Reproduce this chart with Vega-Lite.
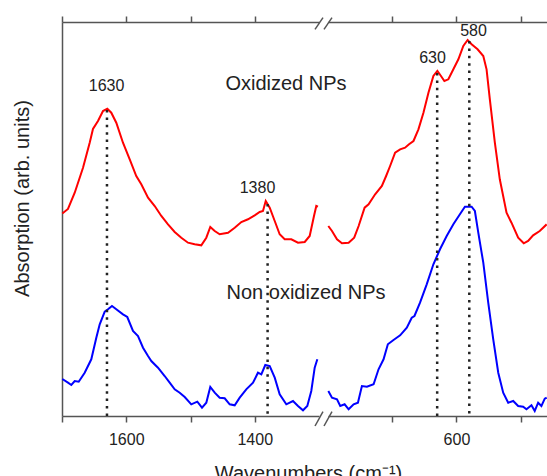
{
  "$schema": "https://vega.github.io/schema/vega-lite/v6.json",
  "padding": {"left": 12, "top": 15, "right": 0, "bottom": 0},
  "background": "white",
  "config": {
    "view": {"stroke": null},
    "font": "Liberation Sans",
    "axis": {
      "grid": false,
      "domainColor": "#555555",
      "domainWidth": 1.5,
      "tickColor": "#555555",
      "tickWidth": 1.5,
      "tickSize": 6,
      "labelFont": "Liberation Sans",
      "labelFontSize": 16,
      "labelColor": "#222222",
      "labelPadding": 9,
      "titleFont": "Liberation Sans",
      "titleFontSize": 20,
      "titleFontWeight": "normal",
      "titleColor": "#222222"
    }
  },
  "datasets": {
    "spectra": [
      {"wavenumber": 1699.5, "absorption": 202.5, "series": "Oxidized", "segment": "left"},
      {"wavenumber": 1690.7, "absorption": 207, "series": "Oxidized", "segment": "left"},
      {"wavenumber": 1680.2, "absorption": 223.3, "series": "Oxidized", "segment": "left"},
      {"wavenumber": 1667.3, "absorption": 248.3, "series": "Oxidized", "segment": "left"},
      {"wavenumber": 1656.9, "absorption": 273.3, "series": "Oxidized", "segment": "left"},
      {"wavenumber": 1651.8, "absorption": 287, "series": "Oxidized", "segment": "left"},
      {"wavenumber": 1644.0, "absorption": 295, "series": "Oxidized", "segment": "left"},
      {"wavenumber": 1636.2, "absorption": 305, "series": "Oxidized", "segment": "left"},
      {"wavenumber": 1629.5, "absorption": 307.3, "series": "Oxidized", "segment": "left"},
      {"wavenumber": 1623.3, "absorption": 303.3, "series": "Oxidized", "segment": "left"},
      {"wavenumber": 1615.5, "absorption": 293.3, "series": "Oxidized", "segment": "left"},
      {"wavenumber": 1605.1, "absorption": 273.3, "series": "Oxidized", "segment": "left"},
      {"wavenumber": 1594.6, "absorption": 256.7, "series": "Oxidized", "segment": "left"},
      {"wavenumber": 1584.4, "absorption": 240, "series": "Oxidized", "segment": "left"},
      {"wavenumber": 1576.6, "absorption": 231.7, "series": "Oxidized", "segment": "left"},
      {"wavenumber": 1566.1, "absorption": 218.3, "series": "Oxidized", "segment": "left"},
      {"wavenumber": 1555.7, "absorption": 210, "series": "Oxidized", "segment": "left"},
      {"wavenumber": 1545.4, "absorption": 200, "series": "Oxidized", "segment": "left"},
      {"wavenumber": 1535.0, "absorption": 191.7, "series": "Oxidized", "segment": "left"},
      {"wavenumber": 1524.6, "absorption": 184, "series": "Oxidized", "segment": "left"},
      {"wavenumber": 1514.3, "absorption": 178.3, "series": "Oxidized", "segment": "left"},
      {"wavenumber": 1503.9, "absorption": 173.3, "series": "Oxidized", "segment": "left"},
      {"wavenumber": 1493.5, "absorption": 171.7, "series": "Oxidized", "segment": "left"},
      {"wavenumber": 1483.2, "absorption": 170.7, "series": "Oxidized", "segment": "left"},
      {"wavenumber": 1475.4, "absorption": 178.3, "series": "Oxidized", "segment": "left"},
      {"wavenumber": 1469.2, "absorption": 189, "series": "Oxidized", "segment": "left"},
      {"wavenumber": 1462.3, "absorption": 185, "series": "Oxidized", "segment": "left"},
      {"wavenumber": 1454.6, "absorption": 181.7, "series": "Oxidized", "segment": "left"},
      {"wavenumber": 1441.6, "absorption": 183.3, "series": "Oxidized", "segment": "left"},
      {"wavenumber": 1431.2, "absorption": 188.3, "series": "Oxidized", "segment": "left"},
      {"wavenumber": 1420.9, "absorption": 194, "series": "Oxidized", "segment": "left"},
      {"wavenumber": 1410.5, "absorption": 196.7, "series": "Oxidized", "segment": "left"},
      {"wavenumber": 1400.1, "absorption": 200.7, "series": "Oxidized", "segment": "left"},
      {"wavenumber": 1392.3, "absorption": 204, "series": "Oxidized", "segment": "left"},
      {"wavenumber": 1387.2, "absorption": 205, "series": "Oxidized", "segment": "left"},
      {"wavenumber": 1382.9, "absorption": 215, "series": "Oxidized", "segment": "left"},
      {"wavenumber": 1376.7, "absorption": 208.3, "series": "Oxidized", "segment": "left"},
      {"wavenumber": 1368.9, "absorption": 195, "series": "Oxidized", "segment": "left"},
      {"wavenumber": 1361.2, "absorption": 181.7, "series": "Oxidized", "segment": "left"},
      {"wavenumber": 1353.4, "absorption": 176.7, "series": "Oxidized", "segment": "left"},
      {"wavenumber": 1343.1, "absorption": 176.7, "series": "Oxidized", "segment": "left"},
      {"wavenumber": 1332.7, "absorption": 173.3, "series": "Oxidized", "segment": "left"},
      {"wavenumber": 1322.2, "absorption": 174, "series": "Oxidized", "segment": "left"},
      {"wavenumber": 1314.5, "absorption": 180, "series": "Oxidized", "segment": "left"},
      {"wavenumber": 1307.8, "absorption": 200, "series": "Oxidized", "segment": "left"},
      {"wavenumber": 1304.2, "absorption": 210, "series": "Oxidized", "segment": "left"},
      {"wavenumber": 1301.6, "absorption": 209.3, "series": "Oxidized", "segment": "left"},

      {"wavenumber": 1699.5, "absorption": 37, "series": "Non oxidized", "segment": "left"},
      {"wavenumber": 1690.7, "absorption": 33.3, "series": "Non oxidized", "segment": "left"},
      {"wavenumber": 1685.5, "absorption": 31, "series": "Non oxidized", "segment": "left"},
      {"wavenumber": 1680.2, "absorption": 35, "series": "Non oxidized", "segment": "left"},
      {"wavenumber": 1674.0, "absorption": 34.3, "series": "Non oxidized", "segment": "left"},
      {"wavenumber": 1664.7, "absorption": 43.3, "series": "Non oxidized", "segment": "left"},
      {"wavenumber": 1654.4, "absorption": 56.7, "series": "Non oxidized", "segment": "left"},
      {"wavenumber": 1646.6, "absorption": 78.3, "series": "Non oxidized", "segment": "left"},
      {"wavenumber": 1641.3, "absorption": 91.7, "series": "Non oxidized", "segment": "left"},
      {"wavenumber": 1633.5, "absorption": 104.3, "series": "Non oxidized", "segment": "left"},
      {"wavenumber": 1628.4, "absorption": 106.7, "series": "Non oxidized", "segment": "left"},
      {"wavenumber": 1622.2, "absorption": 110, "series": "Non oxidized", "segment": "left"},
      {"wavenumber": 1615.5, "absorption": 106.7, "series": "Non oxidized", "segment": "left"},
      {"wavenumber": 1605.1, "absorption": 101.7, "series": "Non oxidized", "segment": "left"},
      {"wavenumber": 1598.4, "absorption": 99, "series": "Non oxidized", "segment": "left"},
      {"wavenumber": 1589.5, "absorption": 85, "series": "Non oxidized", "segment": "left"},
      {"wavenumber": 1581.7, "absorption": 80, "series": "Non oxidized", "segment": "left"},
      {"wavenumber": 1573.9, "absorption": 68.3, "series": "Non oxidized", "segment": "left"},
      {"wavenumber": 1566.1, "absorption": 60, "series": "Non oxidized", "segment": "left"},
      {"wavenumber": 1561.0, "absorption": 55, "series": "Non oxidized", "segment": "left"},
      {"wavenumber": 1550.6, "absorption": 48.3, "series": "Non oxidized", "segment": "left"},
      {"wavenumber": 1540.2, "absorption": 40, "series": "Non oxidized", "segment": "left"},
      {"wavenumber": 1532.4, "absorption": 33.3, "series": "Non oxidized", "segment": "left"},
      {"wavenumber": 1524.6, "absorption": 26.7, "series": "Non oxidized", "segment": "left"},
      {"wavenumber": 1516.8, "absorption": 23.3, "series": "Non oxidized", "segment": "left"},
      {"wavenumber": 1509.0, "absorption": 19, "series": "Non oxidized", "segment": "left"},
      {"wavenumber": 1498.8, "absorption": 11.7, "series": "Non oxidized", "segment": "left"},
      {"wavenumber": 1489.4, "absorption": 14.3, "series": "Non oxidized", "segment": "left"},
      {"wavenumber": 1482.1, "absorption": 8.3, "series": "Non oxidized", "segment": "left"},
      {"wavenumber": 1475.4, "absorption": 13.3, "series": "Non oxidized", "segment": "left"},
      {"wavenumber": 1469.2, "absorption": 29, "series": "Non oxidized", "segment": "left"},
      {"wavenumber": 1462.3, "absorption": 23.3, "series": "Non oxidized", "segment": "left"},
      {"wavenumber": 1454.6, "absorption": 18.3, "series": "Non oxidized", "segment": "left"},
      {"wavenumber": 1446.8, "absorption": 17.7, "series": "Non oxidized", "segment": "left"},
      {"wavenumber": 1439.0, "absorption": 11.7, "series": "Non oxidized", "segment": "left"},
      {"wavenumber": 1431.2, "absorption": 10.7, "series": "Non oxidized", "segment": "left"},
      {"wavenumber": 1423.4, "absorption": 18.3, "series": "Non oxidized", "segment": "left"},
      {"wavenumber": 1413.2, "absorption": 26.7, "series": "Non oxidized", "segment": "left"},
      {"wavenumber": 1402.7, "absorption": 33.3, "series": "Non oxidized", "segment": "left"},
      {"wavenumber": 1395.0, "absorption": 43.3, "series": "Non oxidized", "segment": "left"},
      {"wavenumber": 1389.8, "absorption": 41.7, "series": "Non oxidized", "segment": "left"},
      {"wavenumber": 1383.6, "absorption": 51, "series": "Non oxidized", "segment": "left"},
      {"wavenumber": 1376.7, "absorption": 50, "series": "Non oxidized", "segment": "left"},
      {"wavenumber": 1368.9, "absorption": 38.3, "series": "Non oxidized", "segment": "left"},
      {"wavenumber": 1361.2, "absorption": 21.7, "series": "Non oxidized", "segment": "left"},
      {"wavenumber": 1350.9, "absorption": 11.7, "series": "Non oxidized", "segment": "left"},
      {"wavenumber": 1340.5, "absorption": 15, "series": "Non oxidized", "segment": "left"},
      {"wavenumber": 1332.7, "absorption": 10, "series": "Non oxidized", "segment": "left"},
      {"wavenumber": 1324.9, "absorption": 5.7, "series": "Non oxidized", "segment": "left"},
      {"wavenumber": 1318.2, "absorption": 10, "series": "Non oxidized", "segment": "left"},
      {"wavenumber": 1312.0, "absorption": 25, "series": "Non oxidized", "segment": "left"},
      {"wavenumber": 1306.7, "absorption": 48.3, "series": "Non oxidized", "segment": "left"},
      {"wavenumber": 1302.6, "absorption": 56.7, "series": "Non oxidized", "segment": "left"},

      {"wavenumber": 799.5, "absorption": 190, "series": "Oxidized", "segment": "right"},
      {"wavenumber": 793.8, "absorption": 185, "series": "Oxidized", "segment": "right"},
      {"wavenumber": 786.0, "absorption": 176.7, "series": "Oxidized", "segment": "right"},
      {"wavenumber": 778.3, "absorption": 172.7, "series": "Oxidized", "segment": "right"},
      {"wavenumber": 767.9, "absorption": 173.3, "series": "Oxidized", "segment": "right"},
      {"wavenumber": 759.2, "absorption": 178.3, "series": "Oxidized", "segment": "right"},
      {"wavenumber": 752.3, "absorption": 190, "series": "Oxidized", "segment": "right"},
      {"wavenumber": 743.0, "absorption": 208.3, "series": "Oxidized", "segment": "right"},
      {"wavenumber": 736.8, "absorption": 211.7, "series": "Oxidized", "segment": "right"},
      {"wavenumber": 726.6, "absorption": 221.7, "series": "Oxidized", "segment": "right"},
      {"wavenumber": 716.1, "absorption": 230, "series": "Oxidized", "segment": "right"},
      {"wavenumber": 709.5, "absorption": 240, "series": "Oxidized", "segment": "right"},
      {"wavenumber": 703.3, "absorption": 250, "series": "Oxidized", "segment": "right"},
      {"wavenumber": 695.5, "absorption": 263.3, "series": "Oxidized", "segment": "right"},
      {"wavenumber": 687.7, "absorption": 266.7, "series": "Oxidized", "segment": "right"},
      {"wavenumber": 680.0, "absorption": 268.3, "series": "Oxidized", "segment": "right"},
      {"wavenumber": 673.8, "absorption": 271.7, "series": "Oxidized", "segment": "right"},
      {"wavenumber": 666.9, "absorption": 275, "series": "Oxidized", "segment": "right"},
      {"wavenumber": 659.2, "absorption": 286.7, "series": "Oxidized", "segment": "right"},
      {"wavenumber": 651.4, "absorption": 303.3, "series": "Oxidized", "segment": "right"},
      {"wavenumber": 643.6, "absorption": 323.3, "series": "Oxidized", "segment": "right"},
      {"wavenumber": 635.9, "absorption": 340, "series": "Oxidized", "segment": "right"},
      {"wavenumber": 629.7, "absorption": 345, "series": "Oxidized", "segment": "right"},
      {"wavenumber": 624.1, "absorption": 340, "series": "Oxidized", "segment": "right"},
      {"wavenumber": 618.8, "absorption": 335, "series": "Oxidized", "segment": "right"},
      {"wavenumber": 612.6, "absorption": 336.7, "series": "Oxidized", "segment": "right"},
      {"wavenumber": 604.8, "absorption": 346.7, "series": "Oxidized", "segment": "right"},
      {"wavenumber": 597.0, "absorption": 356.7, "series": "Oxidized", "segment": "right"},
      {"wavenumber": 589.3, "absorption": 370, "series": "Oxidized", "segment": "right"},
      {"wavenumber": 582.6, "absorption": 376, "series": "Oxidized", "segment": "right"},
      {"wavenumber": 576.4, "absorption": 371.7, "series": "Oxidized", "segment": "right"},
      {"wavenumber": 567.1, "absorption": 366.7, "series": "Oxidized", "segment": "right"},
      {"wavenumber": 558.2, "absorption": 360, "series": "Oxidized", "segment": "right"},
      {"wavenumber": 553.1, "absorption": 346.7, "series": "Oxidized", "segment": "right"},
      {"wavenumber": 548.0, "absorption": 316.7, "series": "Oxidized", "segment": "right"},
      {"wavenumber": 540.2, "absorption": 273.3, "series": "Oxidized", "segment": "right"},
      {"wavenumber": 532.5, "absorption": 236.7, "series": "Oxidized", "segment": "right"},
      {"wavenumber": 522.0, "absorption": 203.3, "series": "Oxidized", "segment": "right"},
      {"wavenumber": 514.3, "absorption": 193.3, "series": "Oxidized", "segment": "right"},
      {"wavenumber": 503.9, "absorption": 178.3, "series": "Oxidized", "segment": "right"},
      {"wavenumber": 495.2, "absorption": 172.7, "series": "Oxidized", "segment": "right"},
      {"wavenumber": 488.4, "absorption": 175, "series": "Oxidized", "segment": "right"},
      {"wavenumber": 480.6, "absorption": 180.7, "series": "Oxidized", "segment": "right"},
      {"wavenumber": 470.3, "absorption": 185, "series": "Oxidized", "segment": "right"},
      {"wavenumber": 459.5, "absorption": 191.7, "series": "Oxidized", "segment": "right"},

      {"wavenumber": 799.5, "absorption": 25, "series": "Non oxidized", "segment": "right"},
      {"wavenumber": 793.8, "absorption": 18.3, "series": "Non oxidized", "segment": "right"},
      {"wavenumber": 786.0, "absorption": 16.7, "series": "Non oxidized", "segment": "right"},
      {"wavenumber": 780.9, "absorption": 10, "series": "Non oxidized", "segment": "right"},
      {"wavenumber": 774.1, "absorption": 11.7, "series": "Non oxidized", "segment": "right"},
      {"wavenumber": 767.9, "absorption": 6.7, "series": "Non oxidized", "segment": "right"},
      {"wavenumber": 760.1, "absorption": 11.7, "series": "Non oxidized", "segment": "right"},
      {"wavenumber": 753.4, "absorption": 13.3, "series": "Non oxidized", "segment": "right"},
      {"wavenumber": 747.2, "absorption": 30, "series": "Non oxidized", "segment": "right"},
      {"wavenumber": 739.4, "absorption": 29.3, "series": "Non oxidized", "segment": "right"},
      {"wavenumber": 729.0, "absorption": 31.7, "series": "Non oxidized", "segment": "right"},
      {"wavenumber": 721.3, "absorption": 46.7, "series": "Non oxidized", "segment": "right"},
      {"wavenumber": 713.5, "absorption": 56.7, "series": "Non oxidized", "segment": "right"},
      {"wavenumber": 706.8, "absorption": 71.7, "series": "Non oxidized", "segment": "right"},
      {"wavenumber": 698.0, "absorption": 76, "series": "Non oxidized", "segment": "right"},
      {"wavenumber": 687.7, "absorption": 80.7, "series": "Non oxidized", "segment": "right"},
      {"wavenumber": 677.3, "absorption": 88.3, "series": "Non oxidized", "segment": "right"},
      {"wavenumber": 669.6, "absorption": 98.3, "series": "Non oxidized", "segment": "right"},
      {"wavenumber": 665.4, "absorption": 100, "series": "Non oxidized", "segment": "right"},
      {"wavenumber": 656.7, "absorption": 113.3, "series": "Non oxidized", "segment": "right"},
      {"wavenumber": 646.3, "absorption": 131.7, "series": "Non oxidized", "segment": "right"},
      {"wavenumber": 635.9, "absorption": 151.7, "series": "Non oxidized", "segment": "right"},
      {"wavenumber": 625.6, "absorption": 166.7, "series": "Non oxidized", "segment": "right"},
      {"wavenumber": 615.2, "absorption": 180, "series": "Non oxidized", "segment": "right"},
      {"wavenumber": 604.8, "absorption": 191.7, "series": "Non oxidized", "segment": "right"},
      {"wavenumber": 594.6, "absorption": 201.7, "series": "Non oxidized", "segment": "right"},
      {"wavenumber": 586.8, "absorption": 209.3, "series": "Non oxidized", "segment": "right"},
      {"wavenumber": 576.4, "absorption": 209.3, "series": "Non oxidized", "segment": "right"},
      {"wavenumber": 571.3, "absorption": 205, "series": "Non oxidized", "segment": "right"},
      {"wavenumber": 566.0, "absorption": 183.3, "series": "Non oxidized", "segment": "right"},
      {"wavenumber": 558.2, "absorption": 153.3, "series": "Non oxidized", "segment": "right"},
      {"wavenumber": 550.5, "absorption": 113.3, "series": "Non oxidized", "segment": "right"},
      {"wavenumber": 542.7, "absorption": 76.7, "series": "Non oxidized", "segment": "right"},
      {"wavenumber": 534.9, "absorption": 43.3, "series": "Non oxidized", "segment": "right"},
      {"wavenumber": 527.2, "absorption": 23.3, "series": "Non oxidized", "segment": "right"},
      {"wavenumber": 519.4, "absorption": 13.3, "series": "Non oxidized", "segment": "right"},
      {"wavenumber": 511.6, "absorption": 15, "series": "Non oxidized", "segment": "right"},
      {"wavenumber": 503.9, "absorption": 10, "series": "Non oxidized", "segment": "right"},
      {"wavenumber": 496.1, "absorption": 9.3, "series": "Non oxidized", "segment": "right"},
      {"wavenumber": 491.0, "absorption": 6.7, "series": "Non oxidized", "segment": "right"},
      {"wavenumber": 483.2, "absorption": 10.7, "series": "Non oxidized", "segment": "right"},
      {"wavenumber": 478.1, "absorption": 5, "series": "Non oxidized", "segment": "right"},
      {"wavenumber": 472.8, "absorption": 13.3, "series": "Non oxidized", "segment": "right"},
      {"wavenumber": 467.7, "absorption": 10, "series": "Non oxidized", "segment": "right"},
      {"wavenumber": 462.5, "absorption": 17.3, "series": "Non oxidized", "segment": "right"},
      {"wavenumber": 459.5, "absorption": 18.3, "series": "Non oxidized", "segment": "right"}
    ],
    "peaks": [
      {"wavenumber": 1630, "absorption": 306, "segment": "left"},
      {"wavenumber": 1380, "absorption": 212, "segment": "left"},
      {"wavenumber": 630, "absorption": 343, "segment": "right"},
      {"wavenumber": 580, "absorption": 375, "segment": "right"}
    ],
    "labels": [
      {"text": "1630", "wavenumber": 1630.6, "absorption": 325, "segment": "left", "kind": "peak"},
      {"text": "1380", "wavenumber": 1395.7, "absorption": 223, "segment": "left", "kind": "peak"},
      {"text": "630", "wavenumber": 637.2, "absorption": 353, "segment": "right", "kind": "peak"},
      {"text": "580", "wavenumber": 573.4, "absorption": 380, "segment": "right", "kind": "peak"},
      {"text": "Oxidized NPs", "wavenumber": 1351.4, "absorption": 326, "segment": "left", "kind": "series"},
      {"text": "Non oxidized NPs", "wavenumber": 1320.2, "absorption": 117, "segment": "left", "kind": "series"}
    ],
    "breaks": [
      {"wavenumber": 1306.2, "to_wn": 1293.8, "absorption": -10, "to_abs": 4.3},
      {"wavenumber": 1292.2, "to_wn": 1279.8, "absorption": -10, "to_abs": 4.3},
      {"wavenumber": 1306.2, "to_wn": 1293.8, "absorption": 386.7, "to_abs": 398.3},
      {"wavenumber": 1292.2, "to_wn": 1279.8, "absorption": 386.7, "to_abs": 398.3}
    ]
  },
  "spacing": 9,
  "bounds": "flush",
  "hconcat": [
    {
      "width": 257,
      "height": 394,
      "resolve": {"axis": {"x": "independent", "y": "independent"}},
      "layer": [
        {
          "data": {"name": "spectra"},
          "transform": [{"filter": "datum.segment == 'left'"}],
          "mark": {"type": "line", "strokeWidth": 2},
          "encoding": {
            "x": {
              "field": "wavenumber", "type": "quantitative",
              "scale": {"domain": [1700, 1300], "nice": false, "zero": false},
              "axis": {
                "orient": "bottom",
                "values": [1700, 1600, 1500, 1400],
                "labelExpr": "datum.value == 1600 || datum.value == 1400 ? datum.value : ''",
                "labelFlush": false,
                "labelOverlap": false,
                "title": "Wavenumbers (cm⁻¹)",
                "titleX": 246,
                "titleY": 63,
                "titleBaseline": "alphabetic",
                "titleAlign": "center"
              }
            },
            "y": {
              "field": "absorption", "type": "quantitative",
              "scale": {"domain": [0, 394], "nice": false},
              "axis": {
                "orient": "left",
                "ticks": false,
                "labels": false,
                "title": "Absorption  (arb. units)",
                "titlePadding": 30,
                "titleY": 176
              }
            },
            "color": {
              "field": "series", "type": "nominal",
              "scale": {"domain": ["Oxidized", "Non oxidized"], "range": ["#ff0000", "#0000ff"]},
              "legend": null
            }
          }
        },
        {
          "data": {"name": "peaks"},
          "transform": [{"filter": "datum.segment == 'left'"}],
          "mark": {"type": "rule", "strokeDash": [2.5, 4.9], "strokeWidth": 2.5, "color": "#222222"},
          "encoding": {
            "x": {
              "field": "wavenumber", "type": "quantitative",
              "axis": {
                "orient": "top",
                "values": [1700, 1600, 1500, 1400],
                "labels": false,
                "title": null
              }
            },
            "y": {"field": "absorption", "type": "quantitative", "axis": null},
            "y2": {"datum": 0}
          }
        },
        {
          "data": {"name": "breaks"},
          "mark": {"type": "rule", "strokeWidth": 1.5, "color": "#555555"},
          "encoding": {
            "x": {"field": "wavenumber", "type": "quantitative", "axis": null},
            "x2": {"field": "to_wn"},
            "y": {"field": "absorption", "type": "quantitative", "axis": null},
            "y2": {"field": "to_abs"}
          }
        },
        {
          "data": {"name": "labels"},
          "transform": [{"filter": "datum.segment == 'left' && datum.kind == 'peak'"}],
          "mark": {"type": "text", "fontSize": 16, "align": "center", "baseline": "alphabetic", "color": "#222222", "font": "Liberation Sans"},
          "encoding": {
            "x": {"field": "wavenumber", "type": "quantitative", "axis": null},
            "y": {"field": "absorption", "type": "quantitative", "axis": null},
            "text": {"field": "text"}
          }
        },
        {
          "data": {"name": "labels"},
          "transform": [{"filter": "datum.segment == 'left' && datum.kind == 'series'"}],
          "mark": {"type": "text", "fontSize": 20, "align": "center", "baseline": "alphabetic", "color": "#222222", "font": "Liberation Sans"},
          "encoding": {
            "x": {"field": "wavenumber", "type": "quantitative", "axis": null},
            "y": {"field": "absorption", "type": "quantitative", "axis": null},
            "text": {"field": "text"}
          }
        }
      ]
    },
    {
      "width": 219,
      "height": 394,
      "resolve": {"axis": {"x": "independent"}},
      "layer": [
        {
          "data": {"name": "spectra"},
          "transform": [{"filter": "datum.segment == 'right'"}],
          "mark": {"type": "line", "strokeWidth": 2},
          "encoding": {
            "x": {
              "field": "wavenumber", "type": "quantitative",
              "scale": {"domain": [800, 459], "nice": false, "zero": false},
              "axis": {
                "orient": "bottom",
                "values": [700, 600, 500],
                "labelExpr": "datum.value == 600 ? datum.value : ''",
                "labelFlush": false,
                "labelOverlap": false,
                "title": null
              }
            },
            "y": {
              "field": "absorption", "type": "quantitative",
              "scale": {"domain": [0, 394], "nice": false},
              "axis": null
            },
            "color": {
              "field": "series", "type": "nominal",
              "scale": {"domain": ["Oxidized", "Non oxidized"], "range": ["#ff0000", "#0000ff"]},
              "legend": null
            }
          }
        },
        {
          "data": {"name": "peaks"},
          "transform": [{"filter": "datum.segment == 'right'"}],
          "mark": {"type": "rule", "strokeDash": [2.5, 4.9], "strokeWidth": 2.5, "color": "#222222"},
          "encoding": {
            "x": {
              "field": "wavenumber", "type": "quantitative",
              "axis": {
                "orient": "top",
                "values": [700, 600, 500],
                "labels": false,
                "title": null
              }
            },
            "y": {"field": "absorption", "type": "quantitative", "axis": null},
            "y2": {"datum": 0}
          }
        },
        {
          "data": {"name": "labels"},
          "transform": [{"filter": "datum.segment == 'right'"}],
          "mark": {"type": "text", "fontSize": 16, "align": "center", "baseline": "alphabetic", "color": "#222222", "font": "Liberation Sans"},
          "encoding": {
            "x": {"field": "wavenumber", "type": "quantitative", "axis": null},
            "y": {"field": "absorption", "type": "quantitative", "axis": null},
            "text": {"field": "text"}
          }
        }
      ]
    }
  ]
}
